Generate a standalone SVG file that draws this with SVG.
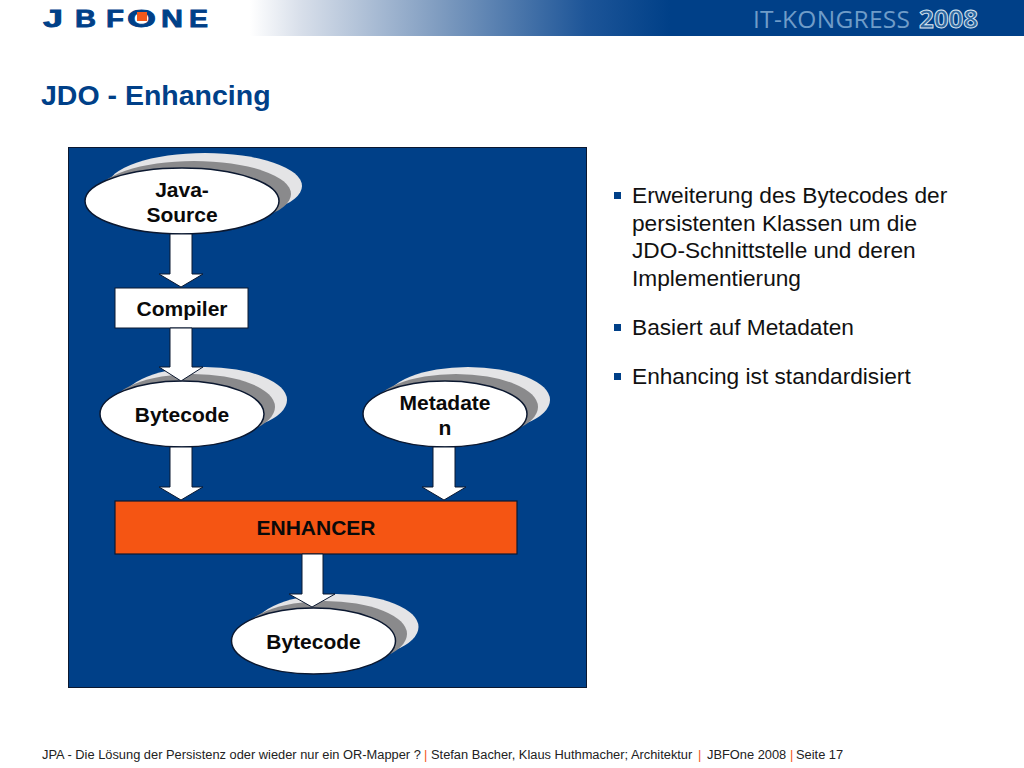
<svg xmlns="http://www.w3.org/2000/svg" width="1024" height="768" viewBox="0 0 1024 768">
<style>
text{font-family:"Liberation Sans",Arial,sans-serif}
.lbl{font-size:21px;font-weight:700;fill:#0a0a0a;text-anchor:middle}
.bul{font-size:22.7px;fill:#111}
.foot{font-size:12.85px;fill:#222}
.sep{font-size:12.85px;fill:#f4581a}
.logo{font-size:24px;font-weight:700;fill:#004088;stroke:#004088;stroke-width:0.8}
.sh1{fill:#e4e4e6}
.sh2{fill:#8a8a8c}
.oval{fill:#fff;stroke:#0b1830;stroke-width:1.5}
.arrow{fill:#fff;stroke:#0b1830;stroke-width:1}
.sq{fill:#004088}
</style>
<defs>
<linearGradient id="hdr" x1="0" x2="1" y1="0" y2="0">
<stop offset="0" stop-color="#fff"/>
<stop offset="0.12" stop-color="#d8dfea"/>
<stop offset="0.45" stop-color="#7f9cc0"/>
<stop offset="0.8" stop-color="#1d5598"/>
<stop offset="1" stop-color="#004088"/>
</linearGradient>
</defs>
<rect width="1024" height="768" fill="#fff"/>
<g id="header">
<rect x="250" y="0" width="420" height="36" fill="url(#hdr)"/>
<rect x="670" y="0" width="354" height="36" fill="#004088"/>
<text x="753" y="28" font-size="24.5" textLength="157" lengthAdjust="spacing" style="font-family:'Open Sans','Liberation Sans',sans-serif" fill="#6f9cc8">IT-KONGRESS</text>
<text x="919" y="28" font-size="24.5" font-weight="700" textLength="59" lengthAdjust="spacingAndGlyphs" style="font-family:'Open Sans','Liberation Sans',sans-serif" fill="#2f679f" stroke="#dfe8f2" stroke-width="0.9">2008</text>
</g>
<g id="logo">
<text class="logo" x="43" y="27" textLength="20" lengthAdjust="spacingAndGlyphs">J</text>
<text class="logo" x="75" y="27" textLength="21" lengthAdjust="spacingAndGlyphs">B</text>
<text class="logo" x="106" y="27" textLength="18" lengthAdjust="spacingAndGlyphs">F</text>
<text class="logo" x="127" y="27" textLength="29" lengthAdjust="spacingAndGlyphs">O</text>
<rect x="137" y="12" width="10" height="9" fill="#f4581a"/>
<text class="logo" x="161" y="27" textLength="22" lengthAdjust="spacingAndGlyphs">N</text>
<text class="logo" x="189" y="27" textLength="19" lengthAdjust="spacingAndGlyphs">E</text>
</g>
<text id="title" x="41" y="105" font-size="28.5" font-weight="700" fill="#004088">JDO - Enhancing</text>
<rect id="panel" x="68.500" y="147.500" width="518" height="540" fill="#004088" stroke="#0b1830" stroke-width="1"/>
<g id="node-java-source">
<ellipse class="sh1" cx="205" cy="186" rx="97" ry="33"/>
<ellipse class="sh2" cx="194" cy="194" rx="97" ry="33"/>
<ellipse class="oval" cx="182" cy="201" rx="97" ry="33"/>
<text class="lbl" x="182" y="196.500">Java-</text>
<text class="lbl" x="182" y="221.500">Source</text>
</g>
<g id="node-compiler">
<rect x="115" y="288" width="133" height="40" fill="#fff" stroke="#0b1830" stroke-width="1"/>
<text class="lbl" x="182" y="316">Compiler</text>
</g>
<g id="node-bytecode-1">
<ellipse class="sh1" cx="205" cy="400" rx="82" ry="33"/>
<ellipse class="sh2" cx="193" cy="407" rx="82" ry="33"/>
<ellipse class="oval" cx="182" cy="414" rx="82" ry="33"/>
<text class="lbl" x="182" y="422">Bytecode</text>
</g>
<g id="node-metadaten">
<ellipse class="sh1" cx="468" cy="400" rx="82" ry="33"/>
<ellipse class="sh2" cx="456" cy="407" rx="82" ry="33"/>
<ellipse class="oval" cx="445" cy="414" rx="82" ry="33"/>
<text class="lbl" x="445" y="410">Metadate</text>
<text class="lbl" x="445" y="435">n</text>
</g>
<g id="node-enhancer">
<rect x="115" y="501" width="402" height="53" fill="#f55513" stroke="#0b1830" stroke-width="1.2"/>
<text class="lbl" x="316" y="535">ENHANCER</text>
</g>
<g id="node-bytecode-2">
<ellipse class="sh1" cx="336.500" cy="627" rx="82" ry="33"/>
<ellipse class="sh2" cx="325" cy="634" rx="82" ry="33"/>
<ellipse class="oval" cx="313.500" cy="641" rx="82" ry="33"/>
<text class="lbl" x="313.500" y="649">Bytecode</text>
</g>
<g id="connectors">
<path class="arrow" d="M170 234V274H159L181 287L203 274H192V234Z"/>
<path class="arrow" d="M170 328V367H159L181 381L203 367H192V328Z"/>
<path class="arrow" d="M170 447V487H159L181 500L203 487H192V447Z"/>
<path class="arrow" d="M433 447V487H422L444 500L466 487H455V447Z"/>
<path class="arrow" d="M302 554V594H289L312 607L335 594H323V554Z"/>
</g>
<g id="bullets">
<rect class="sq" x="614" y="192" width="7" height="7"/>
<text class="bul" x="632" y="202.500">Erweiterung des Bytecodes der</text>
<text class="bul" x="632" y="230.500">persistenten Klassen um die</text>
<text class="bul" x="632" y="257.500">JDO-Schnittstelle und deren</text>
<text class="bul" x="632" y="285.500">Implementierung</text>
<rect class="sq" x="614" y="324" width="7" height="7"/>
<text class="bul" x="632" y="334.500">Basiert auf Metadaten</text>
<rect class="sq" x="614" y="373" width="7" height="7"/>
<text class="bul" x="632" y="383.500">Enhancing ist standardisiert</text>
</g>
<g id="footer">
<text class="foot" x="42" y="759">JPA - Die Lösung der Persistenz oder wieder nur ein OR-Mapper ?</text>
<text class="sep" x="424" y="759">|</text>
<text class="foot" x="431" y="759">Stefan Bacher, Klaus Huthmacher; Architektur</text>
<text class="sep" x="698" y="759">|</text>
<text class="foot" x="707" y="759">JBFOne 2008</text>
<text class="sep" x="790" y="759">|</text>
<text class="foot" x="796" y="759">Seite 17</text>
</g>
</svg>
